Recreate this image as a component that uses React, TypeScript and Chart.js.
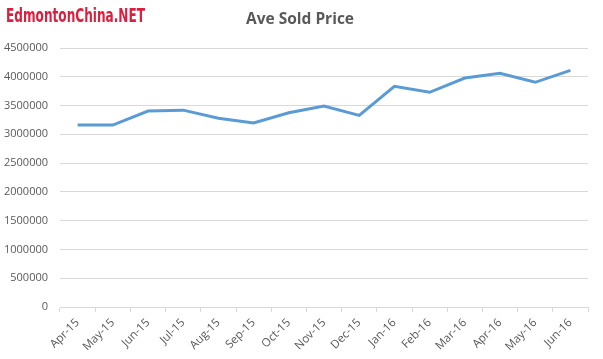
import React, { useEffect, useRef } from "react";
import { Chart, registerables } from "chart.js";

Chart.register(...registerables);

const months = [
  "Apr-15", "May-15", "Jun-15", "Jul-15", "Aug-15", "Sep-15", "Oct-15", "Nov-15",
  "Dec-15", "Jan-16", "Feb-16", "Mar-16", "Apr-16", "May-16", "Jun-16",
];
const avgSoldPrice = [
  3160000, 3160000, 3405000, 3420000, 3280000, 3197000, 3376000, 3492000,
  3330000, 3834000, 3730000, 3979000, 4060000, 3904000, 4112000,
];
const chartTitle = "Ave Sold Price";
const logoText = "EdmontonChina.NET";

const W = 603;
const H = 359;

export default function App() {
  const ref = useRef<HTMLCanvasElement | null>(null);

  useEffect(() => {
    document.body.style.margin = "0";
    const canvas = ref.current;
    if (!canvas) return;

    const decor = {
      id: "decor",
      afterDraw(chart: any) {
        const ctx = chart.ctx;
        ctx.save();
        ctx.fillStyle = "#dc1f3e";
        ctx.font = "bold 19px 'DejaVu Sans', sans-serif";
        ctx.textBaseline = "alphabetic";
        ctx.textAlign = "left";
        const w = ctx.measureText(logoText).width;
        ctx.translate(6, 21.5);
        ctx.scale(139 / w, 1.05);
        ctx.fillText(logoText, 0, 0);
        ctx.restore();
        ctx.save();
        ctx.fillStyle = "#595959";
        ctx.font = "bold 15.5px 'Open Sans', sans-serif";
        ctx.textAlign = "center";
        ctx.textBaseline = "middle";
        ctx.fillText(chartTitle, 300, 20);
        ctx.restore();
      },
    };

    const chart = new Chart(canvas, {
      type: "line",
      data: {
        labels: months,
        datasets: [
          {
            data: avgSoldPrice,
            borderColor: "#5b9bd5",
            borderWidth: 3,
            pointRadius: 0,
            fill: false,
            tension: 0,
          },
        ],
      },
      options: {
        animation: false,
        responsive: false,
        layout: { padding: { top: 48, right: 15, left: 0, bottom: 0 } },
        plugins: {
          legend: { display: false },
          title: { display: false },
          tooltip: { enabled: false },
        },
        scales: {
          x: {
            offset: true,
            grid: {
              display: true,
              offset: true,
              drawOnChartArea: false,
              drawTicks: true,
              tickLength: 5,
              color: "#d9d9d9",
            },
            border: { display: true, color: "#d9d9d9" },
            ticks: {
              color: "#595959",
              font: { family: "'Open Sans', sans-serif", size: 11.5 },
              minRotation: 45,
              maxRotation: 45,
              autoSkip: false,
              padding: 4,
            },
            afterFit(scale: any) {
              scale.height = H - 307;
            },
          },
          y: {
            min: 0,
            max: 4500000,
            grid: { color: "#d9d9d9", drawTicks: false },
            border: { display: false },
            ticks: {
              stepSize: 500000,
              color: "#595959",
              font: { family: "'Open Sans', sans-serif", size: 11 },
              padding: 12,
              callback: (v: any) => String(v),
            },
            afterFit(scale: any) {
              scale.width = 60;
            },
          },
        },
      },
      plugins: [decor],
    });

    return () => chart.destroy();
  }, []);

  return (
    <div style={{ position: "absolute", left: 0, top: 0, width: W, height: H, background: "#fff" }}>
      <canvas ref={ref} width={W} height={H} style={{ display: "block", width: W, height: H }} />
    </div>
  );
}
